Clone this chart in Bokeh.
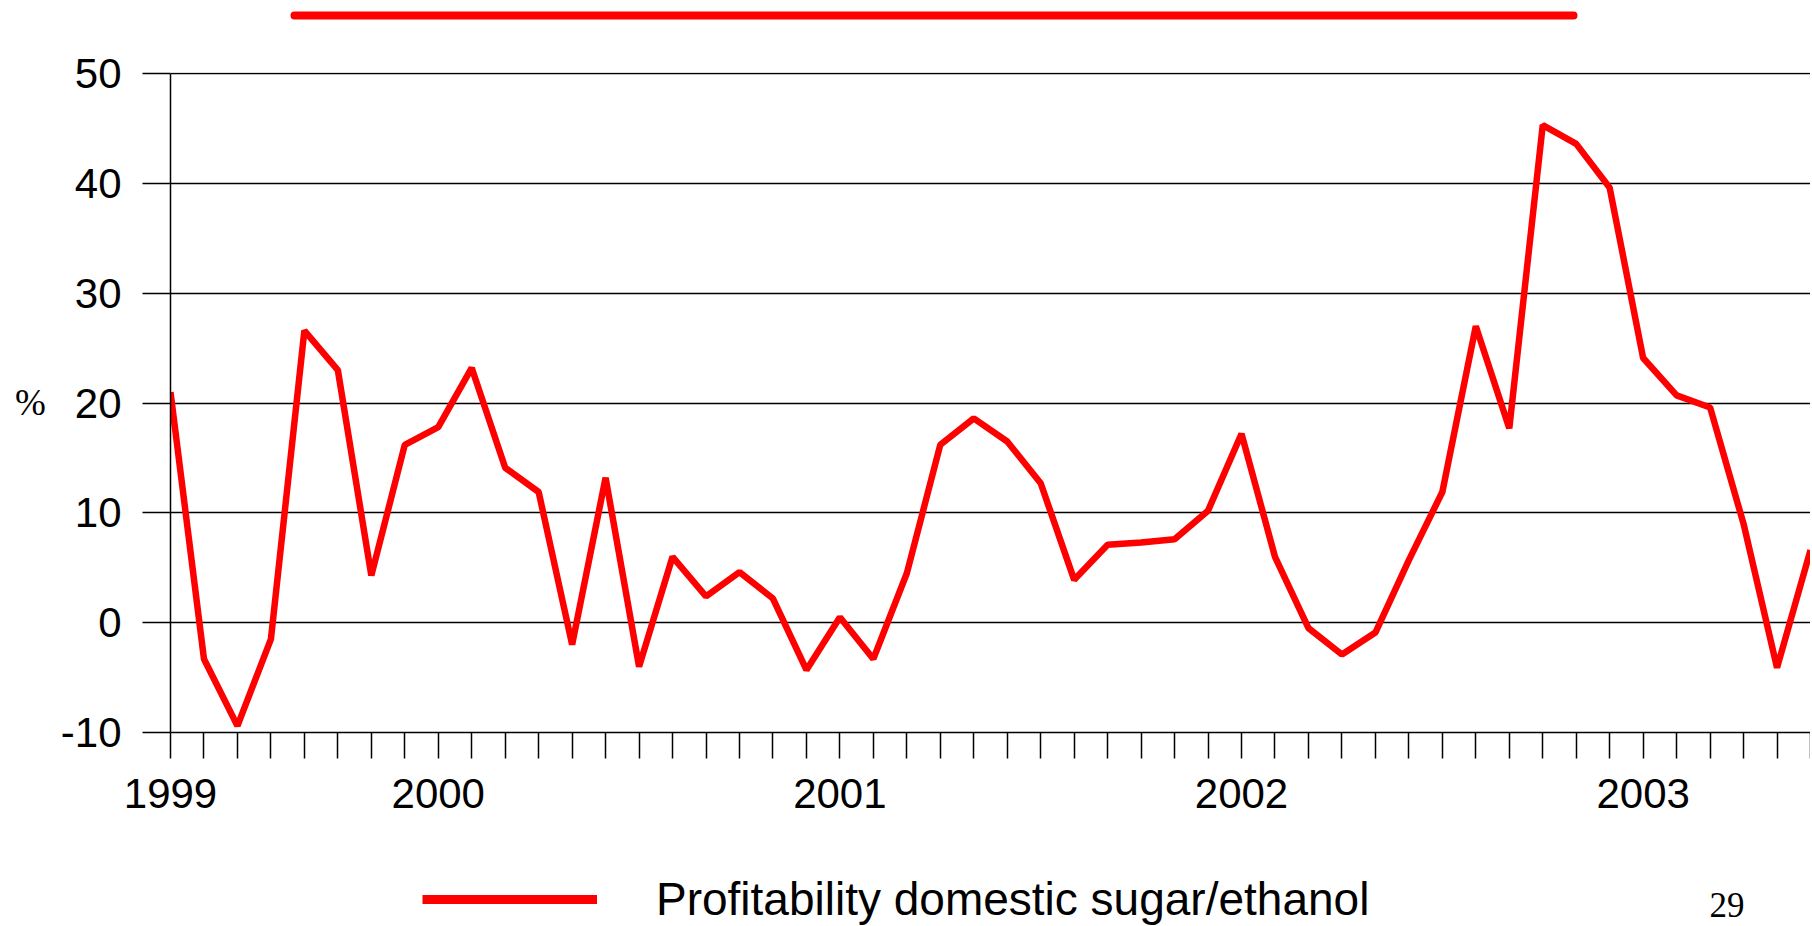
from bokeh.plotting import figure
from bokeh.layouts import column
from bokeh.models import (Range1d, FixedTicker, Label, Legend, LegendItem,
                          ColumnDataSource)
from bokeh.embed import file_html
from bokeh.resources import INLINE

# ---- data (monthly profitability, %) ----
profitability = [21.0, -3.3, -9.4, -1.5, 26.6, 23.0, 4.3, 16.2, 17.8, 23.2,
                 14.1, 11.9, -2.0, 13.2, -4.0, 6.0, 2.4, 4.6, 2.2, -4.3,
                 0.5, -3.3, 4.5, 16.2, 18.6, 16.5, 12.7, 3.9, 7.1, 7.3,
                 7.6, 10.2, 17.2, 6.0, -0.5, -2.9, -0.9, 5.7, 11.9, 27.0,
                 17.7, 45.3, 43.6, 39.6, 24.1, 20.7, 19.6, 9.0, -4.1, 6.6]
period = list(range(len(profitability)))
year_tick_positions = [0, 8, 20, 32, 44]
year_labels = ["1999", "2000", "2001", "2002", "2003"]
y_ticks = [-10, 0, 10, 20, 30, 40, 50]
series_name = "Profitability domestic sugar/ethanol"
page_number = "29"
unit_label = "%"

RED = "#ff0000"
SANS = "Liberation Sans"
SERIF = "Liberation Serif"
W = 1810
FRAME_LEFT = 170


def blank_fig(h):
    # frame is aligned with the main chart frame by the column layout;
    # x data units == page pixels
    f = figure(width=W, height=h, output_backend="svg", toolbar_location=None,
               x_axis_type=None, y_axis_type=None,
               x_range=Range1d(FRAME_LEFT, W), y_range=Range1d(0, h),
               min_border_left=FRAME_LEFT, min_border_right=0,
               min_border_top=0, min_border_bottom=0)
    f.outline_line_color = None
    f.border_fill_color = "white"
    f.background_fill_color = "white"
    return f


# ---- top decorative rule ----
TOP_H = 40
top = blank_fig(TOP_H)
top.line(x=[294, 1573], y=[TOP_H - 15, TOP_H - 15], line_color=RED,
         line_width=8, line_cap="round")

# ---- main chart ----
p = figure(width=W, height=786, output_backend="svg", toolbar_location=None,
           x_range=Range1d(0, len(profitability) - 1),
           y_range=Range1d(-10, 50.1),
           min_border_left=FRAME_LEFT, min_border_right=0, min_border_top=32,
           min_border_bottom=94)
p.outline_line_color = None
p.background_fill_color = "white"
p.border_fill_color = "white"

src = ColumnDataSource(dict(x=period, y=profitability))
p.line("x", "y", source=src, line_color=RED, line_width=6.5,
       line_join="bevel")

ya = p.yaxis[0]
ya.ticker = FixedTicker(ticks=y_ticks)
ya.bounds = (-10, 50)
ya.major_label_overrides = {t: str(t) for t in y_ticks}
ya.major_tick_out = 28
ya.major_tick_in = 0
ya.minor_tick_line_color = None
ya.axis_line_color = "black"
ya.axis_line_width = 1.5
ya.major_tick_line_color = "black"
ya.major_tick_line_width = 1.5
ya.major_label_text_font = SANS
ya.major_label_text_font_size = "42px"
ya.major_label_text_color = "black"
ya.major_label_standoff = 21
ya.axis_label = unit_label
ya.axis_label_orientation = "horizontal"
ya.axis_label_text_font = SERIF
ya.axis_label_text_font_size = "37px"
ya.axis_label_text_font_style = "normal"
ya.axis_label_text_color = "black"
ya.axis_label_standoff = 12

xa = p.xaxis[0]
xa.ticker = FixedTicker(ticks=period)
overrides = {i: "" for i in period}
for pos, lab in zip(year_tick_positions, year_labels):
    overrides[pos] = lab
xa.major_label_overrides = overrides
xa.major_tick_out = 26
xa.major_tick_in = 0
xa.minor_tick_line_color = None
xa.axis_line_color = "black"
xa.axis_line_width = 1.5
xa.major_tick_line_color = "black"
xa.major_tick_line_width = 1.5
xa.major_label_text_font = SANS
xa.major_label_text_font_size = "42px"
xa.major_label_text_color = "black"
xa.major_label_standoff = 20

p.xgrid.grid_line_color = None
p.ygrid.ticker = FixedTicker(ticks=y_ticks)
p.ygrid.grid_line_color = "black"
p.ygrid.grid_line_width = 1.5

# ---- bottom: legend + page number ----
BOT_H = 100
bot = blank_fig(BOT_H)
nan = float("nan")
legend_glyph = bot.line(x=[nan], y=[nan], line_color=RED, line_width=9,
                        line_cap="butt")
legend = Legend(items=[LegendItem(label=series_name, renderers=[legend_glyph])],
                location=(422 - FRAME_LEFT, 0), orientation="horizontal",
                glyph_width=175, glyph_height=50, label_height=50,
                label_standoff=59, padding=0, margin=0, spacing=0,
                label_text_font=SANS, label_text_font_size="46px",
                label_text_color="black",
                border_line_alpha=0, background_fill_alpha=0)
bot.add_layout(legend, "center")
bot.add_layout(Label(x=1709, y=22, text=page_number, text_font=SERIF,
                     text_font_size="35px", text_align="left",
                     text_baseline="middle", text_color="black"))

layout = column(top, p, bot, spacing=0)
open("out.html", "w").write(file_html(layout, INLINE))
